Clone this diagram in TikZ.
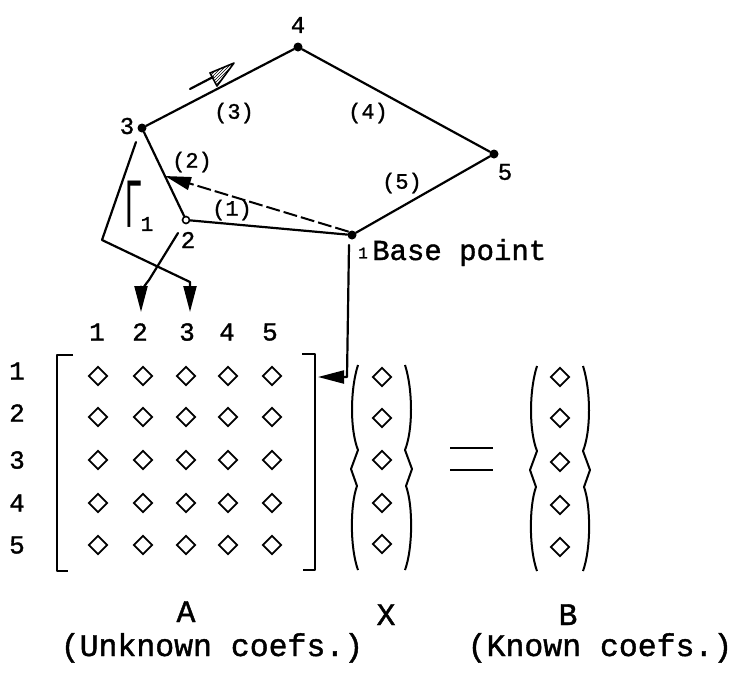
\documentclass[tikz,border=0pt]{standalone}
\usepackage{fontspec}
\usepackage{graphicx}
\newfontfamily\lmono{Liberation Mono}[UprightFeatures={FakeBold=1.3}]
\newfontfamily\lsans{Liberation Sans}
\usetikzlibrary{arrows.meta,patterns,shapes.geometric}
\tikzset{
  edge/.style={line width=2.2pt, line cap=round, line join=round},
  gdot/.style={circle, fill=black, inner sep=0pt, minimum size=9pt},
  odot/.style={circle, draw=black, fill=white, line width=1.6pt, inner sep=0pt, minimum size=7pt},
  nlab/.style={font=\lmono\fontsize{24}{24}\selectfont, inner sep=0pt},
  slab/.style={font=\lmono\fontsize{16}{16}\selectfont, inner sep=0pt},
  elab/.style={font=\lmono\fontsize{22}{22}\selectfont, inner sep=0pt},
  ilab/.style={font=\lmono\fontsize{26}{26}\selectfont, inner sep=0pt},
  blab/.style={font=\lmono\fontsize{29}{29}\selectfont, inner sep=0pt},
  tlab/.style={font=\lmono\fontsize{31.5}{31.5}\selectfont, inner sep=0pt},
  dia/.style={diamond, draw=black, line width=1.8pt, inner sep=0pt, minimum width=19pt, minimum height=19pt},
  tri/.style={-{Triangle[length=26pt,width=13pt]}},
  wparen/.pic={\draw[line width=2pt, line join=round] (0,0) .. controls (-8,25) and (-8,65) .. (0,85) -- (-7,104) -- (-1,121) .. controls (-8,140) and (-8,183) .. (0,205);}
}
\begin{document}
\begin{tikzpicture}[x=1pt,y=-1pt]
\useasboundingbox (0,0) rectangle (736,673);
% graph nodes
\node[gdot] (n4) at (298,47) {};
\node[gdot] (n3) at (142,128) {};
\node[gdot] (n5) at (494,154) {};
\node[odot] (n2) at (186,220) {};
\node[gdot] (n1) at (352,235) {};
\node[nlab] (l4) at (298,25) {4};
\node[nlab] (l3) at (127,126) {3};
\node[nlab] (l5) at (505,172) {5};
\node[nlab] (l2) at (188,240) {2};
\node[slab] (l1) at (363,253) {1};
\node[blab, anchor=base west] (bp) at (372,260) {Base point};
% edges
\draw[edge] (n3) -- (n4) -- (n5) -- (n1) -- (n2) -- (n3);
\node[elab] (e1) at (232,210) {(1)};
\node[elab] (e2) at (192,162) {(2)};
\node[elab] (e3) at (234,113) {(3)};
\node[elab] (e4) at (368,113) {(4)};
\node[elab] (e5) at (402,183) {(5)};
% direction indicator
\coordinate (ha) at (190,89);
\coordinate (hb) at (213,77);
\draw[edge] (ha) -- (hb);
\draw[line width=1.6pt, line join=round, pattern=north east lines] (234,63) -- (210,73) -- (217,86) -- cycle;
% dashed arrow from base point
\coordinate (m23) at (165,176);
\draw[line width=2pt, dash pattern=on 14pt off 4pt, tri] (n1.north west) -- (m23);
% Gamma
\node[inner sep=0pt, font=\lsans\fontsize{30}{30}\selectfont] (gam) at (134,204) {\scalebox{1}[2.25]{Γ}};
\node[font=\lmono\fontsize{21}{21}\selectfont, inner sep=0pt] (gam1) at (147,224) {1};
% matrix column & row indices
\foreach \x [count=\j] in {97,140,187,227,270} {\node[ilab] (c\j) at (\x,332) {\j};}
\foreach \y [count=\i] in {371,413,460,503,545} {\node[ilab] (r\i) at (17,\y) {\i};}
% matrix entries
\foreach \x [count=\j] in {98,143,186,228,272} {
  \foreach \y [count=\i] in {376,417,460,503,545} {\node[dia] (a\i\j) at (\x,\y) {};}}
% brackets
\draw[edge, line cap=butt] (73,355) -- (57,355) -- (57,571) -- (68,571);
\draw[edge, line cap=butt] (302,354) -- (315,354) -- (315,570) -- (303,570);
% vectors
\foreach \y [count=\i] in {377,418,460,503,544} {\node[dia] (x\i) at (382,\y) {};}
\foreach \y [count=\i] in {377,418,462,505,547} {\node[dia] (b\i) at (560,\y) {};}
\pic at (358,365) {wparen};
\pic[xscale=-1] at (405,365) {wparen};
\pic at (537,366) {wparen};
\pic[xscale=-1] at (583,366) {wparen};
% equals
\draw[line width=2.5pt] (450,448) -- (493,448);
\draw[line width=2.5pt] (450,470) -- (493,470);
% arrows from graph to matrix
\coordinate (p3a) at (136,142);
\coordinate (p3b) at (102,240);
\coordinate (p3c) at (190,282);
\coordinate (t3) at (190,312);
\draw[edge, tri] (p3a) -- (p3b) -- (p3c) -- (t3);
\coordinate (p2a) at (178,233);
\coordinate (p2b) at (149,280);
\coordinate (t2) at (141,312);
\draw[edge, tri] (p2a) -- (p2b) .. controls (141,290) and (141,292) .. (141,298) -- (t2);
\coordinate (p1a) at (349,245);
\coordinate (p1b) at (347,377);
\coordinate (tA) at (318,377);
\draw[edge, tri] (p1a) -- (p1b) -- (tA);
% bottom labels
\node[tlab, anchor=base] (la) at (186,622) {A};
\node[tlab, anchor=base] (lx) at (386,625) {X};
\node[tlab, anchor=base] (lb) at (568,625) {B};
\node[tlab, anchor=base] (ua) at (212,656) {(Unknown coefs.)};
\node[tlab, anchor=base] (kb) at (600,656) {(Known coefs.)};
\end{tikzpicture}
\end{document}
